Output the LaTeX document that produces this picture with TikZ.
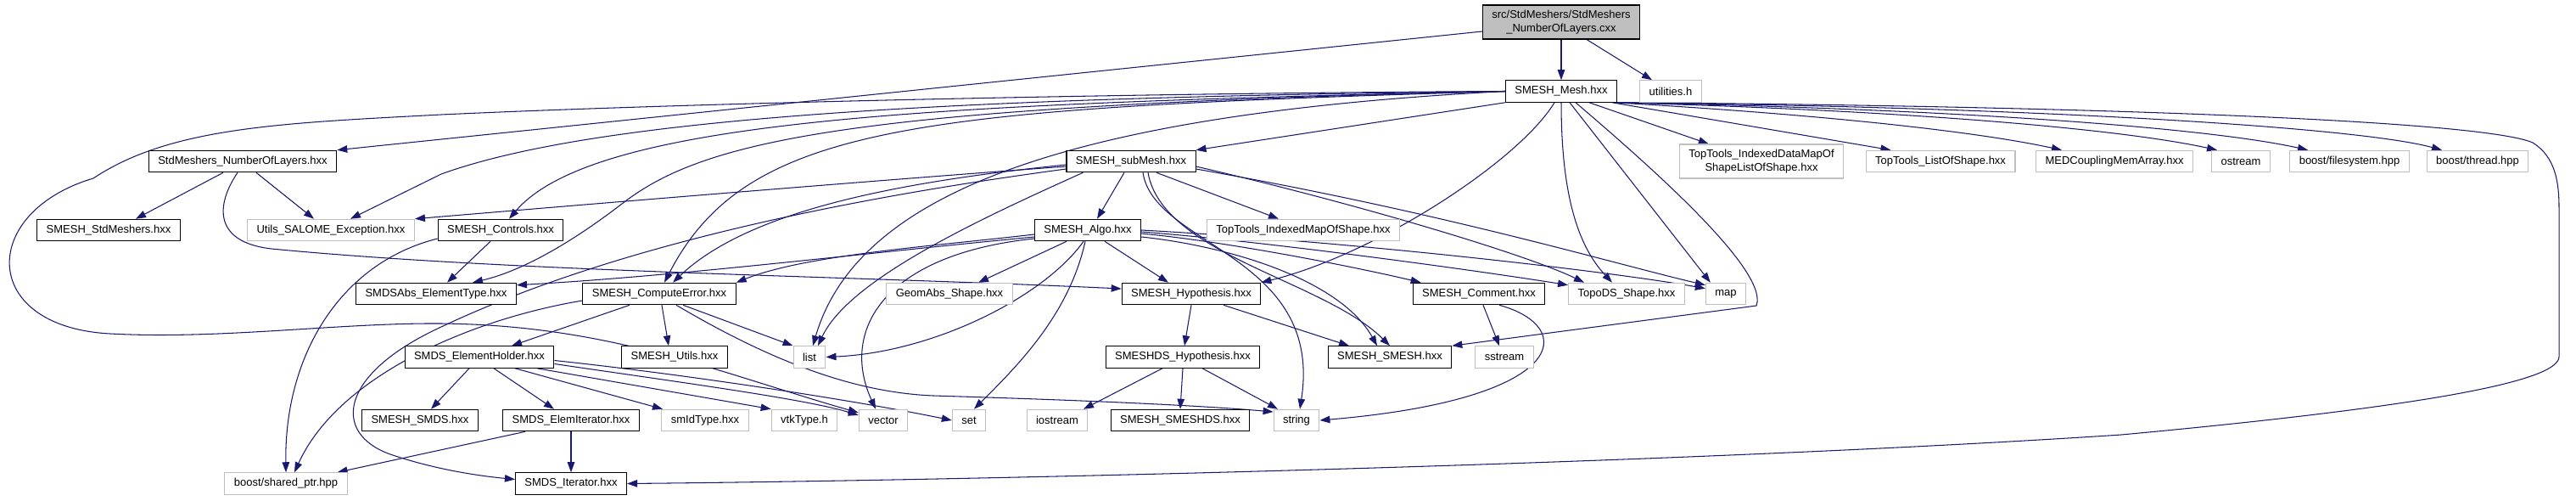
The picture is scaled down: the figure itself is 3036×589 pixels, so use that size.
\documentclass[tikz,border=0pt]{standalone}
\usepackage{fontspec}
\setmainfont{Liberation Sans}
\usepackage{tikz}
\usetikzlibrary{arrows.meta,calc,backgrounds}
\definecolor{dxedge}{HTML}{191970}
\definecolor{dxgrey}{HTML}{BFBFBF}
\tikzset{
  bx/.style={rectangle, fill=white, align=center, font=\fontsize{7.4}{9}\selectfont, inner xsep=0.22cm, inner ysep=0.06cm, minimum height=0.51cm, line width=0.6pt},
  hdr/.style={bx, draw=black},
  sys/.style={bx, draw=dxgrey},
  cur/.style={bx, draw=black, fill=dxgrey, minimum height=0.8cm},
  arr/.style={-{Triangle[length=0.24cm, width=0.17cm]}, draw=dxedge, fill=none, line width=0.6pt},
}
\begin{document}
\begin{tikzpicture}[x=0.02cm, y=-0.02cm]
  \useasboundingbox (0,0) rectangle (3036,589);
  \node[cur] (root) at (1840,26) {src/StdMeshers/StdMeshers\\\_NumberOfLayers.cxx};
  \node[hdr] (mesh) at (1840,107.5) {SMESH\_Mesh.hxx};
  \node[sys] (util) at (1969,107.5) {utilities.h};
  \node[hdr] (nol) at (286,190) {StdMeshers\_NumberOfLayers.hxx};
  \node[hdr] (sub) at (1333,190) {SMESH\_subMesh.hxx};
  \node[sys, minimum height=0.8cm] (tidm) at (2076,190) {TopTools\_IndexedDataMapOf\\ShapeListOfShape.hxx};
  \node[sys] (tlos) at (2287,190) {TopTools\_ListOfShape.hxx};
  \node[sys] (med) at (2492,190) {MEDCouplingMemArray.hxx};
  \node[sys] (ostr) at (2641,190) {ostream};
  \node[sys] (bfs) at (2769,190) {boost/filesystem.hpp};
  \node[sys] (bth) at (2920,190) {boost/thread.hpp};
  \node[hdr] (stdm) at (128,271) {SMESH\_StdMeshers.hxx};
  \node[sys] (exc) at (390,271) {Utils\_SALOME\_Exception.hxx};
  \node[hdr] (ctrl) at (590,271) {SMESH\_Controls.hxx};
  \node[hdr] (algo) at (1282,271) {SMESH\_Algo.hxx};
  \node[sys] (timos) at (1536,271) {TopTools\_IndexedMapOfShape.hxx};
  \node[hdr] (abs) at (514,346) {SMDSAbs\_ElementType.hxx};
  \node[hdr] (cerr) at (777,346) {SMESH\_ComputeError.hxx};
  \node[sys] (geom) at (1119,346) {GeomAbs\_Shape.hxx};
  \node[hdr] (hyp) at (1404,346) {SMESH\_Hypothesis.hxx};
  \node[hdr] (comm) at (1743,346) {SMESH\_Comment.hxx};
  \node[sys] (topo) at (1917,346) {TopoDS\_Shape.hxx};
  \node[sys] (map) at (2034,346) {map};
  \node[hdr] (hold) at (565,420.5) {SMDS\_ElementHolder.hxx};
  \node[hdr] (utils) at (795,420.5) {SMESH\_Utils.hxx};
  \node[sys] (list) at (954,420.5) {list};
  \node[hdr] (dshyp) at (1394,420.5) {SMESHDS\_Hypothesis.hxx};
  \node[hdr] (smesh) at (1638,420.5) {SMESH\_SMESH.hxx};
  \node[sys] (sstr) at (1773,420.5) {sstream};
  \node[hdr] (smds) at (495,495) {SMESH\_SMDS.hxx};
  \node[hdr] (eit) at (673,495) {SMDS\_ElemIterator.hxx};
  \node[sys] (smid) at (831,495) {smIdType.hxx};
  \node[sys] (vtk) at (948,495) {vtkType.h};
  \node[sys] (vec) at (1041,495) {vector};
  \node[sys] (set) at (1142,495) {set};
  \node[sys] (ios) at (1246,495) {iostream};
  \node[hdr] (smeshds) at (1391,495) {SMESH\_SMESHDS.hxx};
  \node[sys] (str) at (1528,495) {string};
  \node[sys] (shp) at (337,569.5) {boost/shared\_ptr.hpp};
  \node[hdr] (iter) at (673,569.5) {SMDS\_Iterator.hxx};
  \begin{scope}[on background layer]
    \draw[arr] (root) -- (mesh);
    \draw[arr] ($(root.south)+(30,0)$) -- ($(util.north)+(-22,0)$);
    \draw[arr] ($(root.west)+(0,11)$) -- (nol.north east);
    \draw[arr] (mesh.south west) -- (sub.north east);
    \draw[arr] (mesh.west) .. controls (1100,115) and (700,140) .. (520,205) -- ($(exc.north)+(23,0)$);
    \draw[arr] (mesh.west) .. controls (1100,122) and (700,140) .. ($(ctrl.north)+(10,0)$);
    \draw[arr] (mesh.west) .. controls (1000,125) and (830,165) .. (733,240) .. controls (681,280) and (620,318) .. ($(abs.north)+(43,0)$);
    \draw[arr] (mesh.west) .. controls (1080,128) and (880,145) .. ($(cerr.north)+(6,0)$);
    \draw[arr] (mesh.west) .. controls (1250,135) and (1010,230) .. ($(list.north)+(4,0)$);
    \draw[arr] (mesh.west) .. controls (1300,110) and (800,122) .. (520,135)
      .. controls (330,145) and (200,150) .. (110,210)
      .. controls (-25,250) and (-25,385) .. (130,393)
      .. controls (260,400) and (400,380) .. (520,381)
      .. controls (720,383) and (850,440) .. ($(vec.west)+(0,-9)$);
    \draw[arr] ($(mesh.south)+(-8,0)$) .. controls (1790,190) and (1620,300) .. (hyp.north east);
    \draw[arr] (mesh.south) .. controls (1840,230) and (1860,290) .. ($(topo.north)+(-17,0)$);
    \draw[arr] ($(mesh.south)+(10,0)$) -- ($(map.north west)+(6,0)$);
    \draw[arr] ($(mesh.south)+(17,0)$) .. controls (1950,200) and (2085,320) .. (2070,360) -- (smesh.north east);
    \draw[arr] ($(mesh.south)+(33,0)$) -- ($(tidm.north west)+(35,0)$);
    \draw[arr] ($(mesh.south east)+(-6,0)$) -- ($(tlos.north west)+(30,0)$);
    \draw[arr] ($(mesh.south east)+(-4,0)$) .. controls (2150,135) and (2330,155) .. ($(med.north west)+(31,0)$);
    \draw[arr] ($(mesh.south east)+(-3,0)$) .. controls (2250,130) and (2500,152) .. ($(ostr.north)+(-28,0)$);
    \draw[arr] ($(mesh.south east)+(-2,0)$) .. controls (2300,128) and (2600,150) .. ($(bfs.north)+(-49,0)$);
    \draw[arr] ($(mesh.south east)+(-1,0)$) .. controls (2400,126) and (2780,150) .. ($(bth.north)+(-42,0)$);
    \draw[arr] (mesh.south east) .. controls (2400,124) and (2920,140) .. (2985,168)
      .. controls (3012,185) and (3016,215) .. (3016,245) -- (3016,420)
      .. controls (3016,445) and (2900,475) .. (2500,512)
      .. controls (2000,545) and (1200,565) .. (iter.east);
    \draw[arr] ($(nol.south)+(-23,0)$) -- ($(stdm.north)+(32,0)$);
    \draw[arr] ($(nol.south)+(16,0)$) -- ($(exc.north)+(-20,0)$);
    \draw[arr] ($(nol.south)+(-6,0)$) .. controls (255,240) and (250,285) .. (320,293) .. controls (600,320) and (1000,325) .. ($(hyp.west)+(0,-6)$);
    \draw[arr] ($(sub.south)+(-8,0)$) -- ($(algo.north)+(11,0)$);
    \draw[arr] ($(sub.south)+(30,0)$) -- ($(timos.north)+(-29,0)$);
    \draw[arr] ($(sub.west)+(0,6)$) .. controls (1000,215) and (700,240) .. (exc.north east);
    \draw[arr] ($(sub.west)+(0,4)$) .. controls (1050,215) and (880,250) .. ($(cerr.north)+(16,0)$);
    \draw[arr] ($(sub.west)+(0,9)$) .. controls (950,240) and (700,300) .. (520,385)
      .. controls (400,440) and (390,510) .. (460,535)
      .. controls (510,552) and (560,560) .. ($(iter.west)+(0,-5)$);
    \draw[arr] ($(sub.south west)+(20,0)$) .. controls (1150,260) and (1000,330) .. ($(list.north)+(10,0)$);
    \draw[arr] ($(sub.south)+(14,0)$) .. controls (1360,290) and (1560,300) .. ($(str.north)+(4,0)$);
    \draw[arr] ($(sub.south)+(20,0)$) .. controls (1370,300) and (1560,330) .. (smesh.north);
    \draw[arr] ($(sub.east)+(0,6)$) .. controls (1600,240) and (1800,300) .. ($(topo.north)+(-50,0)$);
    \draw[arr] ($(sub.east)+(0,9)$) .. controls (1700,250) and (1900,310) .. ($(map.north west)+(0,3)$);
    \draw[arr] ($(ctrl.south)+(-12,0)$) -- ($(abs.north)+(13,0)$);
    \draw[arr] ($(ctrl.west)+(0,10)$) .. controls (400,310) and (335,420) .. (shp.north);
    \draw[arr] ($(algo.south)+(-25,0)$) -- ($(geom.north)+(34,0)$);
    \draw[arr] ($(algo.south)+(20,0)$) -- ($(hyp.north)+(-27,0)$);
    \draw[arr] ($(algo.west)+(0,5)$) .. controls (1100,290) and (950,300) .. (cerr.north east);
    \draw[arr] ($(algo.west)+(0,8)$) .. controls (1000,300) and (800,325) .. ($(abs.north east)+(0,3)$);
    \draw[arr] ($(algo.west)+(0,10)$) .. controls (1040,300) and (990,390) .. ($(vec.north)+(-9,0)$);
    \draw[arr] ($(algo.south)+(-5,0)$) .. controls (1230,350) and (1100,415) .. (list.east);
    \draw[arr] ($(algo.south)+(-3,0)$) .. controls (1260,370) and (1200,430) .. ($(set.north)+(6,0)$);
    \draw[arr] ($(algo.east)+(0,8)$) .. controls (1450,290) and (1580,330) .. ($(smesh.north)+(-15,0)$);
    \draw[arr] ($(algo.east)+(0,4)$) .. controls (1450,285) and (1600,315) .. ($(comm.north west)+(10,0)$);
    \draw[arr] ($(algo.east)+(0,2)$) .. controls (1500,285) and (1750,320) .. ($(topo.north west)+(0,3)$);
    \draw[arr] (algo.east) .. controls (1600,285) and (1900,320) .. ($(map.north west)+(0,7)$);
    \draw[arr] ($(cerr.south)+(-35,0)$) -- ($(hold.north)+(38,0)$);
    \draw[arr] ($(cerr.south)+(3,0)$) -- ($(utils.north)+(-7,0)$);
    \draw[arr] ($(cerr.south)+(28,0)$) -- (list.north west);
    \draw[arr] ($(cerr.south)+(20,0)$) .. controls (900,420) and (1000,462) .. (1100,466) .. controls (1300,472) and (1420,478) .. ($(str.west)+(0,-10)$);
    \draw[arr] ($(cerr.west)+(0,8)$) .. controls (560,375) and (400,440) .. ($(shp.north)+(10,0)$);
    \draw[arr] (hyp.south) -- ($(dshyp.north)+(2,0)$);
    \draw[arr] ($(hyp.south)+(38,0)$) -- ($(smesh.north)+(-48,0)$);
    \draw[arr] ($(dshyp.south)+(-24,0)$) -- ($(ios.north)+(31,0)$);
    \draw[arr] (dshyp.south) -- (smeshds.north);
    \draw[arr] ($(dshyp.south)+(23,0)$) -- ($(str.north)+(-22,0)$);
    \draw[arr] ($(comm.south)+(5,0)$) -- ($(sstr.north)+(-6,0)$);
    \draw[arr] ($(comm.south)+(24,0)$) .. controls (1860,385) and (1850,470) .. (str.east);
    \draw[arr] ($(hold.south)+(-12,0)$) -- ($(smds.north)+(13,0)$);
    \draw[arr] ($(hold.south)+(17,0)$) -- ($(eit.north)+(-20,0)$);
    \draw[arr] ($(hold.south)+(42,0)$) -- ($(smid.north)+(-50,0)$);
    \draw[arr] ($(hold.south)+(68,0)$) -- (vtk.north west);
    \draw[arr] ($(hold.east)+(0,8)$) .. controls (800,450) and (950,470) .. ($(vec.west)+(0,-6)$);
    \draw[arr] ($(hold.east)+(0,4)$) .. controls (800,440) and (1000,470) .. (set.west);
    \draw[arr] (eit) -- (iter);
    \draw[arr] ($(eit.south west)+(27,0)$) -- ($(shp.north east)+(-12,0)$);
  \end{scope}
\end{tikzpicture}
\end{document}
